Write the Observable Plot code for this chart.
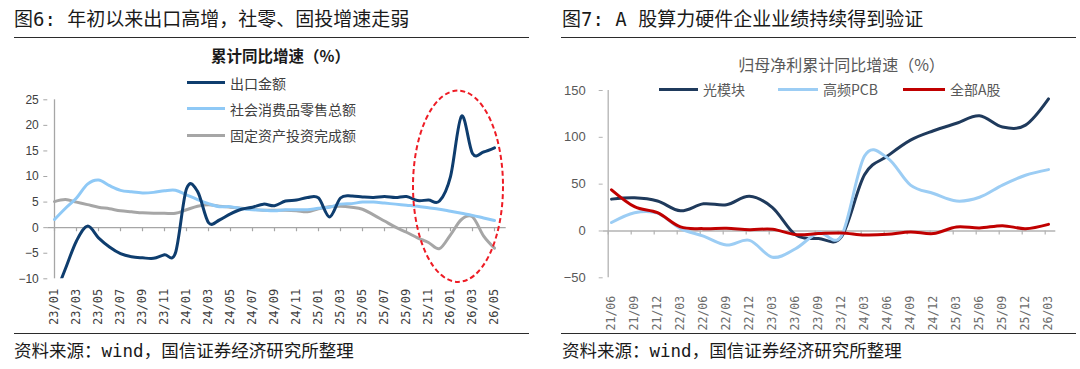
<!DOCTYPE html>
<html>
<head>
<meta charset="utf-8">
<script src="https://cdn.jsdelivr.net/npm/d3@7"></script>
<script src="https://cdn.jsdelivr.net/npm/@observablehq/plot@0.6"></script>
<style>
  html, body { margin: 0; padding: 0; background: #fff; }
  body { width: 1080px; height: 369px; position: relative; overflow: hidden;
         font-family: "Noto Sans CJK SC", "Noto Sans", sans-serif; color: #222; }
  .abs { position: absolute; white-space: nowrap; }
  .title { font-family: "DejaVu Sans Mono", "Noto Sans CJK SC", monospace; font-size: 19px;
           line-height: 20px; color: #1a1a1a; }
  .caption { font-family: "DejaVu Sans Mono", "Noto Sans CJK SC", monospace; font-size: 17.5px;
             line-height: 20px; color: #1a1a1a; }
  .rule { position: absolute; height: 0; border-top: 1.6px solid #2b2b2b; }
  .panel { position: absolute; top: 38px; width: 540px; height: 296px; }
  .legend-row { position: absolute; display: flex; align-items: center; font-size: 14px;
                line-height: 16px; color: #404040; white-space: nowrap; }
  .swatch { display: inline-block; height: 3px; margin-right: 5px; }
</style>
</head>
<body>
<div id="app"></div>
<script>
// ---------- Figure 6: cumulative YoY growth of exports, retail sales, FAI (%) ----------
const monthLabels = [
  "23/01","23/02","23/03","23/04","23/05","23/06","23/07","23/08","23/09","23/10","23/11","23/12",
  "24/01","24/02","24/03","24/04","24/05","24/06","24/07","24/08","24/09","24/10","24/11","24/12",
  "25/01","25/02","25/03","25/04","25/05","25/06","25/07","25/08","25/09","25/10","25/11","25/12",
  "26/01","26/02","26/03","26/04","26/05"
];
const exportGrowth = [
  -13.5, -8.0, -2.6, 0.3, -2.0, -3.8, -5.1, -5.7, -5.9, -6.0, -5.3, -4.9,
  7.6, 7.1, 1.0, 1.5, 2.7, 3.6, 4.0, 4.6, 4.3, 5.2, 5.4, 5.9,
  5.8, 2.1, 5.8, 6.2, 6.0, 5.9, 6.1, 5.9, 6.1, 5.3, 5.4, 5.2,
  10.0, 21.8, 14.5, 14.8, 15.6
];
const retailGrowth = [
  1.6, 3.8, 5.8, 8.5, 9.3, 8.2, 7.3, 7.0, 6.8, 6.9, 7.2, 7.3,
  6.4, 5.5, 4.7, 4.1, 4.1, 3.7, 3.5, 3.4, 3.3, 3.5, 3.5, 3.5,
  3.8, 4.0, 4.6, 4.7, 5.0, 5.0, 4.8, 4.6, 4.4, 4.2, 3.9, 3.6,
  3.2, 2.8, 2.4, 1.9, 1.4
];
const faiGrowth = [
  5.1, 5.5, 5.0, 4.5, 4.0, 3.7, 3.3, 3.1, 2.9, 2.8, 2.8, 2.8,
  3.5, 4.2, 4.5, 4.2, 4.0, 3.8, 3.6, 3.4, 3.4, 3.4, 3.3, 3.1,
  3.7, 4.1, 4.2, 4.0, 3.6, 2.5, 1.3, 0.1, -0.9, -2.0, -2.9, -4.1,
  -1.4, 1.6, 2.1, -1.6, -4.0
];
const leftSeries = ["出口金额", "社会消费品零售总额", "固定资产投资完成额"];
const leftColors = ["#0e3d6e", "#8fc9f6", "#a6a6a6"];
const leftYTicks = [-10, -5, 0, 5, 10, 15, 20, 25];
const leftXTicks = monthLabels.filter((_, i) => i % 2 === 0);

// ---------- Figure 7: cumulative YoY growth of net profit attributable to parent (%) ----------
const quarterLabels = [
  "21/06","21/09","21/12","22/03","22/06","22/09","22/12","23/03","23/06","23/09",
  "23/12","24/03","24/06","24/09","24/12","25/03","25/06","25/09","25/12","26/03"
];
const opticalModule = [34, 35.5, 32, 21.5, 29, 28, 37, 25, -4, -8, -6, 60, 80, 97, 107, 115, 123, 111, 113, 141];
const highFreqPCB   = [9, 19.5, 19, 2.5, -5.5, -15, -10, -28, -19, -2, -5, 80, 78, 49, 40, 32, 36, 49, 59.5, 65.5];
const allAShares    = [44, 26, 19.5, 4.3, 2.5, 2.8, 1.4, 1.8, -3.9, -2.8, -2.1, -4.3, -3.6, -1, -2.8, 4.3, 3.2, 5.7, 2.5, 7.1];
const rightSeries = ["光模块", "高频PCB", "全部A股"];
const rightColors = ["#1f3a5c", "#9ccdf4", "#c00000"];
const rightYTicks = [-50, 0, 50, 100, 150];

const tickFont = '"Liberation Sans", Arial, sans-serif';
const monoFont = '"DejaVu Sans Mono", monospace';

const app = document.getElementById("app");
function add(html) { app.insertAdjacentHTML("beforeend", html); }

// Page furniture: titles, rules, captions
add(`<div class="abs title" style="left:14px;top:9px">图6: 年初以来出口高增，社零、固投增速走弱</div>`);
add(`<div class="abs title" style="left:562px;top:9px">图7: A 股算力硬件企业业绩持续得到验证</div>`);
add(`<div class="rule" style="left:14px;top:37px;width:515px"></div>`);
add(`<div class="rule" style="left:561px;top:37px;width:515px"></div>`);
add(`<div class="rule" style="left:14px;top:333px;width:515px"></div>`);
add(`<div class="rule" style="left:561px;top:333px;width:515px"></div>`);
add(`<div class="abs caption" style="left:14px;top:341px">资料来源：wind，国信证券经济研究所整理</div>`);
add(`<div class="abs caption" style="left:562px;top:341px">资料来源：wind，国信证券经济研究所整理</div>`);

// ---------- Left chart ----------
const leftRows = monthLabels.flatMap((m, i) => [
  {m, series: leftSeries[0], v: exportGrowth[i]},
  {m, series: leftSeries[1], v: retailGrowth[i]},
  {m, series: leftSeries[2], v: faiGrowth[i]}
]);

// Dashed ellipse that highlights the most recent months
const highlight = {from: "25/10", to: "26/05", top: 26.7, bottom: -10.7};
function highlightEllipse(index, scales) {
  const x0 = scales.x(highlight.from) - 4, x1 = scales.x(highlight.to) + 9;
  const y0 = scales.y(highlight.top), y1 = scales.y(highlight.bottom);
  const e = document.createElementNS("http://www.w3.org/2000/svg", "ellipse");
  e.setAttribute("cx", (x0 + x1) / 2);
  e.setAttribute("cy", (y0 + y1) / 2);
  e.setAttribute("rx", (x1 - x0) / 2);
  e.setAttribute("ry", (y1 - y0) / 2);
  e.setAttribute("fill", "none");
  e.setAttribute("stroke", "#ee1c25");
  e.setAttribute("stroke-width", 2);
  e.setAttribute("stroke-dasharray", "5,3");
  return e;
}

const leftChart = Plot.plot({
  width: 540, height: 296,
  marginLeft: 47.3, marginRight: 39.3, marginTop: 61.3, marginBottom: 55.7,
  style: {background: "transparent", overflow: "visible"},
  x: {type: "point", domain: monthLabels, padding: 0, axis: null, label: null},
  y: {domain: [-10, 25], axis: null, label: null},
  marks: [
    Plot.ruleY([0], {stroke: "#a6a6a6", strokeWidth: 1.3, insetRight: -5}),
    Plot.ruleX(leftXTicks, {y1: 0, y2: -0.8, stroke: "#a6a6a6", strokeWidth: 1.2}),
    Plot.ruleX([monthLabels[0]], {stroke: "#a6a6a6", strokeWidth: 1.3}),
    Plot.axisY({ticks: leftYTicks, label: null, tickSize: 4, tickPadding: 5, stroke: "#a6a6a6",
                fill: "#404040", fontSize: 12, fontFamily: tickFont}),
    Plot.axisX({ticks: leftXTicks, label: null, tickSize: 0, tickPadding: 10, tickRotate: -90,
                fill: "#404040", fontSize: 12, fontFamily: monoFont}),
    Plot.line(leftRows, {filter: d => d.series === leftSeries[2], x: "m", y: "v",
                         stroke: leftColors[2], strokeWidth: 3, curve: "cardinal", clip: true}),
    Plot.line(leftRows, {filter: d => d.series === leftSeries[1], x: "m", y: "v",
                         stroke: leftColors[1], strokeWidth: 3, curve: "cardinal", clip: true}),
    Plot.line(leftRows, {filter: d => d.series === leftSeries[0], x: "m", y: "v",
                         stroke: leftColors[0], strokeWidth: 3, curve: "cardinal", clip: true}),
    highlightEllipse
  ]
});
const leftPanel = document.createElement("div");
leftPanel.className = "panel";
leftPanel.style.left = "0px";
leftPanel.appendChild(leftChart);
app.appendChild(leftPanel);

add(`<div class="abs" style="left:280.5px;top:55px;transform:translate(-50%,-50%);font-size:15.5px;font-weight:bold;color:#1a1a1a">累计同比增速（%）</div>`);
const leftLegendY = [82.5, 108.5, 135];
leftSeries.forEach((s, i) => {
  add(`<div class="legend-row" style="left:187px;top:${leftLegendY[i] - 8}px"><span class="swatch" style="width:38px;background:${leftColors[i]}"></span>${s}</div>`);
});

// ---------- Right chart ----------
const rightRows = quarterLabels.flatMap((q, i) => [
  {q, series: rightSeries[0], v: opticalModule[i]},
  {q, series: rightSeries[1], v: highFreqPCB[i]},
  {q, series: rightSeries[2], v: allAShares[i]}
]);

const rightChart = Plot.plot({
  width: 540, height: 296,
  marginLeft: 66, marginRight: 27.7, marginTop: 52, marginBottom: 56.7,
  style: {background: "transparent", overflow: "visible"},
  x: {type: "point", domain: quarterLabels, padding: 0, axis: null, label: null},
  y: {domain: [-50, 150], axis: null, label: null},
  marks: [
    Plot.ruleY([0], {stroke: "#b3b3b3", strokeWidth: 1.3, insetLeft: -3.3, insetRight: -3}),
    Plot.ruleX(quarterLabels, {y1: 0, y2: -4.3, dx: -3.3, stroke: "#b3b3b3", strokeWidth: 1.2}),
    Plot.ruleX([quarterLabels[0]], {dx: -3.3, stroke: "#b3b3b3", strokeWidth: 1.3}),
    Plot.axisY({ticks: rightYTicks, label: null, tickSize: 4, dx: -3.3, tickPadding: 13.5, stroke: "#b3b3b3",
                fill: "#595959", fontSize: 13, fontFamily: tickFont}),
    Plot.axisX({ticks: quarterLabels, label: null, tickSize: 0, tickPadding: 18, tickRotate: -90,
                fill: "#6b6b6b", fontSize: 11.5, fontFamily: monoFont}),
    Plot.line(rightRows, {filter: d => d.series === rightSeries[0], x: "q", y: "v",
                          stroke: rightColors[0], strokeWidth: 3, curve: "cardinal"}),
    Plot.line(rightRows, {filter: d => d.series === rightSeries[1], x: "q", y: "v",
                          stroke: rightColors[1], strokeWidth: 3, curve: "cardinal"}),
    Plot.line(rightRows, {filter: d => d.series === rightSeries[2], x: "q", y: "v",
                          stroke: rightColors[2], strokeWidth: 3, curve: "cardinal"})
  ]
});
const rightPanel = document.createElement("div");
rightPanel.className = "panel";
rightPanel.style.left = "540px";
rightPanel.appendChild(rightChart);
app.appendChild(rightPanel);

add(`<div class="abs" style="left:841.5px;top:64px;transform:translate(-50%,-50%);font-size:16px;color:#595959">归母净利累计同比增速（%）</div>`);
const rightLegendX = [659, 778, 903];
const rightSwatchW = [39, 40, 42];
rightSeries.forEach((s, i) => {
  add(`<div class="legend-row" style="left:${rightLegendX[i]}px;top:${89.3 - 8}px;color:#595959"><span class="swatch" style="width:${rightSwatchW[i]}px;background:${rightColors[i]}"></span>${s}</div>`);
});
</script>
</body>
</html>
